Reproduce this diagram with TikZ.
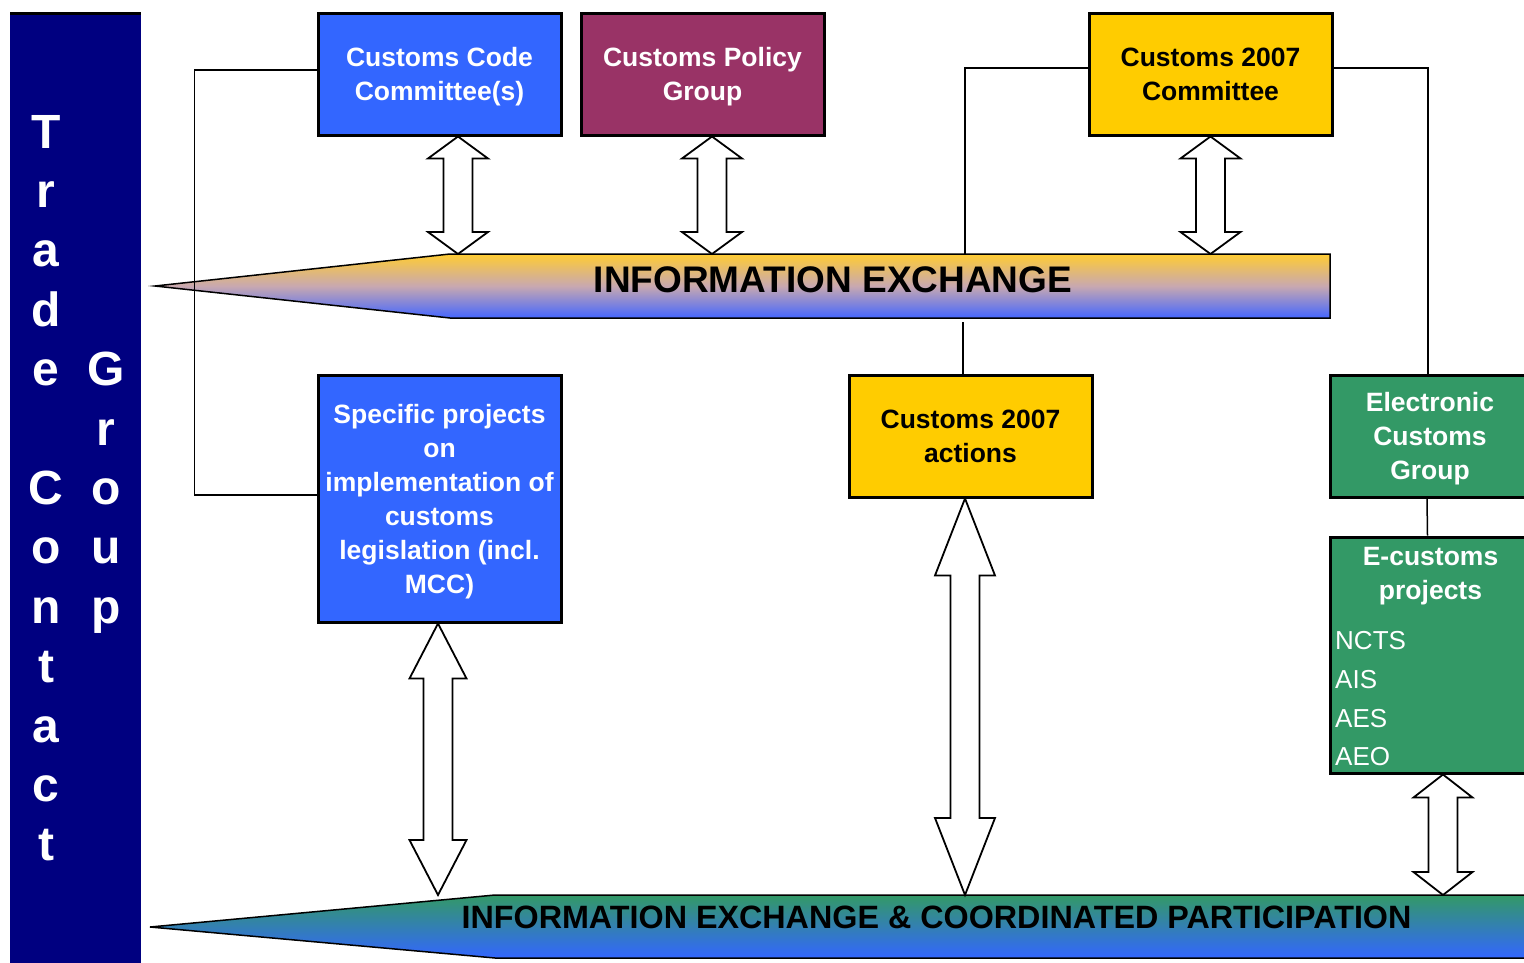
\documentclass[tikz,border=0pt]{standalone}
\usepackage{fontspec}
\setmainfont{Liberation Sans}
\usetikzlibrary{calc}

\definecolor{tcnavy}{HTML}{000080}
\definecolor{ccblue}{HTML}{3366FF}
\definecolor{cppurple}{HTML}{993366}
\definecolor{cyellow}{HTML}{FFCC00}
\definecolor{ecgreen}{HTML}{339966}
\definecolor{bandtop}{HTML}{FFCC33}
\definecolor{bandmid}{HTML}{C8A8B0}
\definecolor{bandbot}{HTML}{4466FF}

% hollow double arrow: top tip, bottom tip, half head width, head length
\newcommand\dblarr[4]{%
  \draw[dblarrow] (#1) -- ($(#1)+(-#3,#4)$) -- ($(#1)+(-14.5,#4)$)
    -- ($(#2)+(-14.5,-#4)$) -- ($(#2)+(-#3,-#4)$) -- (#2)
    -- ($(#2)+(#3,-#4)$) -- ($(#2)+(14.5,-#4)$)
    -- ($(#1)+(14.5,#4)$) -- ($(#1)+(#3,#4)$) -- cycle;}

\begin{document}
\begin{tikzpicture}[x=1pt, y=-1pt,
    box/.style={draw=black, line width=3pt, inner sep=2pt, align=center,
      minimum width=243pt, minimum height=122pt, text=white, text depth=-3pt,
      font=\bfseries\fontsize{26.5}{34}\selectfont},
    conn/.style={draw=black, line width=1.5pt},
    dblarrow/.style={draw=black, fill=white, line width=1.8pt, line join=miter},
    letter/.style={text=white, anchor=base, inner sep=0pt,
      font=\bfseries\fontsize{48}{48}\selectfont}]

  \useasboundingbox (0,0) rectangle (1524,962);

  % Trade Contact Group bar
  \node[fill=tcnavy, inner sep=0pt, minimum width=131pt, minimum height=960pt,
    anchor=north west] (tcg) at (10,13) {};
  \draw[line width=3pt] (tcg.north west) -- (tcg.north east);
  \foreach \ch/\row in {T/0,r/1,a/2,d/3,e/4,C/6,o/7,n/8,t/9,a/10,c/11,t/12}
    \node[letter] (tc\row) at (46,148+59.4*\row) {\ch};
  \foreach \ch/\row in {G/4,r/5,o/6,u/7,p/8}
    \node[letter] (gr\row) at (106,148+59.4*\row) {\ch};

  % information exchange bands
  \shadedraw[line width=1.5pt, top color=bandtop, bottom color=bandbot, middle color=bandmid]
    (155,286) -- (450,254) coordinate (infoN) -- (1330,254) -- (1330,318)
    -- (450,318) -- cycle;
  \node[font=\bfseries\fontsize{37}{37}\selectfont, anchor=base] (infotext)
    at (833,292) {INFORMATION EXCHANGE};
  \coordinate (ix1) at (965,254);

  \shadedraw[line width=1.5pt, top color=ecgreen, bottom color=ccblue]
    (150,927) -- (495,895) coordinate (bandN) -- (1540,895) -- (1540,958)
    -- (495,958) -- cycle;
  \node[font=\bfseries\fontsize{32.3}{32.3}\selectfont, anchor=base] (bandtext)
    at (936.5,928) {INFORMATION EXCHANGE \& COORDINATED PARTICIPATION};

  % boxes
  \node[box, fill=ccblue] (ccc) at (439.5,74) {Customs Code\\Committee(s)};
  \node[box, fill=cppurple] (cpg) at (702.5,74) {Customs Policy\\Group};
  \node[box, fill=cyellow, text=black] (c7c) at (1210.5,74) {Customs 2007\\Committee};
  \node[box, fill=ccblue, minimum height=247pt] (spc) at (439.5,498.5)
    {Specific projects\\on\\implementation of\\customs\\legislation (incl.\\MCC)};
  \node[box, fill=cyellow, text=black] (c7a) at (970.5,436) {Customs 2007\\actions};
  \node[box, fill=ecgreen, minimum width=200pt] (ecg) at (1430,436)
    {Electronic\\Customs\\Group};
  \node[box, fill=ecgreen, minimum width=200pt, minimum height=236pt] (ecp)
    at (1430.5,655) {};
  \node[anchor=north, align=center, text=white, inner sep=0pt,
    font=\bfseries\fontsize{26.5}{34}\selectfont] (ectitle)
    at ([shift={(0,12)}]ecp.north) {E-customs\\projects};
  \node[anchor=north west, align=left, text=white, inner sep=0pt,
    font=\fontsize{26}{38.7}\selectfont] (eclist)
    at ([shift={(6,96)}]ecp.north west) {NCTS\\AIS\\AES\\AEO};

  % connectors
  \draw[conn] ([yshift=4pt]ccc.west) -- ++(-122,0) |- ([yshift=3.5pt]spc.west);
  \draw[conn] ([yshift=6pt]c7c.west) -| (ix1);
  \draw[conn] ([yshift=6pt]c7c.east) -| ([xshift=-2pt]ecg.north);
  \draw[conn] ([xshift=-7.5pt]c7a.north) -- ++(0,-52);
  \draw[conn] ([xshift=-3pt]ecg.south) -- ([xshift=-3pt]ecp.north);

  % double arrows
  \coordinate (a1t) at ([xshift=18.5pt]ccc.south);
  \coordinate (a1b) at (a1t |- infoN);
  \dblarr{a1t}{a1b}{30}{22}
  \coordinate (a2t) at ([xshift=9.5pt]cpg.south);
  \coordinate (a2b) at (a2t |- infoN);
  \dblarr{a2t}{a2b}{30}{22}
  \coordinate (a3t) at (c7c.south);
  \coordinate (a3b) at (a3t |- infoN);
  \dblarr{a3t}{a3b}{30}{22}
  \coordinate (a4t) at ([xshift=-1.5pt]spc.south);
  \coordinate (a4b) at (a4t |- bandN);
  \dblarr{a4t}{a4b}{28.5}{55}
  \coordinate (a5t) at ([xshift=-5.5pt]c7a.south);
  \coordinate (a5b) at (a5t |- bandN);
  \dblarr{a5t}{a5b}{30}{77}
  \coordinate (a6t) at ([xshift=12.5pt]ecp.south);
  \coordinate (a6b) at (a6t |- bandN);
  \dblarr{a6t}{a6b}{29.5}{23}
\end{tikzpicture}
\end{document}
